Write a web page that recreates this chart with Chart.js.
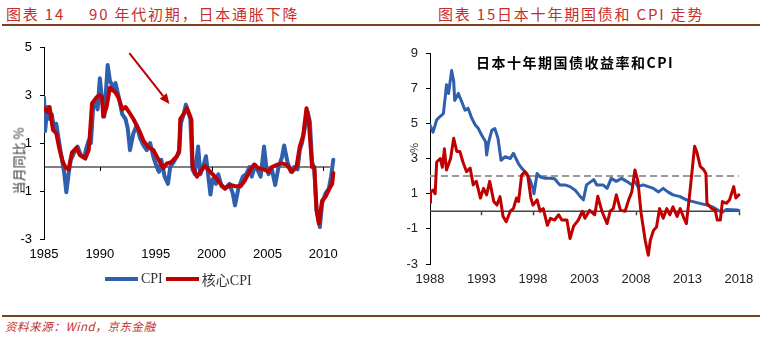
<!DOCTYPE html>
<html>
<head>
<meta charset="utf-8">
<script src="https://cdn.jsdelivr.net/npm/chart.js@4.4.1/dist/chart.umd.min.js"></script>
<style>
  body { margin: 0; width: 762px; height: 337px; position: relative; background: #fff; overflow: hidden;
         font-family: 'Noto Sans CJK SC', 'Liberation Sans', sans-serif; }
  .ttl { position: absolute; top: 3px; color: #C62D2D; font-size: 15px; letter-spacing: 1.8px; white-space: nowrap; }
  .rule { position: absolute; left: 2px; right: 2px; height: 2px; background: #7B3F1F; }
  .box { position: absolute; }
  .vt { position: absolute; transform: translate(-50%, -50%) rotate(-90deg); white-space: nowrap; color: #333; }
  .leg { position: absolute; top: 269px; left: 105px; display: flex; align-items: center; font-family: 'Liberation Serif', 'Noto Sans CJK SC', serif; font-size: 14px; color: #333; }
  .leg i { display: inline-block; width: 33px; height: 4px; margin-right: 3px; }
  .leg span { margin-right: 3px; }
  .inner { position: absolute; top: 52px; left: 476px; font-weight: bold; font-size: 14px; letter-spacing: 1.5px; color: #000; white-space: nowrap; }
  .src { position: absolute; left: 5px; top: 318px; font-size: 11.5px; font-style: italic; color: #C62D2D; letter-spacing: 0.6px; }
</style>
</head>
<body>
<div class="ttl" style="left:6px">图表 14<span style="margin-left:24px">90 年代初期，日本通胀下降</span></div>
<div class="ttl" style="left:438px">图表 15日本十年期国债和 CPI 走势</div>
<div class="rule" style="top:24px"></div>

<div class="box" style="left:0;top:30px;width:381px;height:240px"><canvas id="left"></canvas></div>
<div class="box" style="left:381px;top:30px;width:381px;height:270px"><canvas id="right"></canvas></div>

<div class="vt" style="left:18px;top:161px;font-size:13px">当月同比 %</div>
<div class="vt" style="left:413px;top:148px;font-size:11px">%</div>
<div class="inner">日本十年期国债收益率和CPI</div>

<div class="leg"><i style="background:#2F5FAD"></i><span>CPI</span><i style="background:#C00000"></i><span>核心CPI</span></div>

<div class="rule" style="top:315px"></div>
<div class="src">资料来源：Wind，京东金融</div>

<script>
// 图表14：日本CPI与核心CPI（当月同比 %）
const leftXTicks = [1985, 1990, 1995, 2000, 2005, 2010];
const leftYTicks = [-3, -1, 1, 3, 5];

const cpiT = [1985.0, 1985.1, 1985.3, 1985.5, 1985.7, 1985.9, 1986.1, 1986.3, 1986.5, 1986.8,
  1987.0, 1987.2, 1987.4, 1987.7, 1988.0, 1988.3, 1988.6, 1988.8, 1989.0, 1989.2,
  1989.4, 1989.6, 1989.8, 1990.0, 1990.2, 1990.4, 1990.7, 1990.9, 1991.2, 1991.4,
  1991.7, 1992.0, 1992.3, 1992.5, 1992.7, 1993.0, 1993.3, 1993.6, 1993.9, 1994.2,
  1994.5, 1994.8, 1995.1, 1995.3, 1995.5, 1995.8, 1996.1, 1996.3, 1996.6, 1996.9,
  1997.1, 1997.25, 1997.5, 1997.7, 1997.9, 1998.1, 1998.3, 1998.5, 1998.8, 1999.0,
  1999.3, 1999.5, 1999.9, 2000.1, 2000.4, 2000.6, 2000.9, 2001.2, 2001.6, 2001.9,
  2002.1, 2002.4, 2002.8, 2003.1, 2003.4, 2003.6, 2003.9, 2004.2, 2004.4, 2004.7,
  2004.9, 2005.1, 2005.4, 2005.7, 2006.0, 2006.3, 2006.5, 2006.8, 2007.1, 2007.4,
  2007.7, 2007.9, 2008.1, 2008.3, 2008.6, 2008.8, 2009.0, 2009.2, 2009.4, 2009.7,
  2009.9, 2010.2, 2010.5, 2010.7, 2010.9];
const cpiV = [2.9, 1.5, 2.5, 2.0, 2.2, 1.6, 1.8, 1.2, 0.6, -0.2,
  -1.05, -0.3, 0.3, 0.6, 0.85, 0.5, 0.4, 0.8, 1.1, 1.0,
  2.5, 2.7, 2.4, 3.7, 2.8, 2.1, 4.25, 3.6, 3.3, 3.5,
  2.9, 2.2, 2.0, 1.6, 0.7, 1.4, 1.75, 1.2, 0.9, 0.7,
  1.0, 0.4, 0.0, -0.2, 0.3, -0.4, -0.7, 0.0, 0.2, 0.45,
  0.6, 1.8, 2.2, 2.6, 2.3, 2.0, -0.1, -0.3, 0.85, -0.3,
  0.1, 0.45, -1.15, -0.5, -0.7, -0.3, -0.8, -0.9, -0.7, -1.1,
  -1.6, -0.9, -0.4, -0.3, 0.0, -0.4, 0.1, -0.2, -0.4, 0.85,
  0.0, -0.3, -0.1, -0.75, 0.0, 0.4, 0.9, 0.2, -0.2, 0.0,
  -0.1, 0.7, 1.0, 1.5, 2.3, 1.9, 0.2, -0.1, -1.8, -2.5,
  -1.5, -1.1, -0.9, -0.4, 0.3];

const coreT = [1985.0, 1985.3, 1985.5, 1985.8, 1986.1, 1986.4, 1986.7, 1986.9, 1987.2, 1987.5,
  1987.9, 1988.2, 1988.7, 1989.0, 1989.1, 1989.3, 1989.7, 1990.0, 1990.2, 1990.3,
  1990.6, 1990.9, 1991.4, 1991.7, 1992.0, 1992.3, 1992.6, 1993.0, 1993.5, 1993.9,
  1994.3, 1994.8, 1995.2, 1995.7, 1996.0, 1996.4, 1996.9, 1997.1, 1997.2, 1997.5,
  1997.8, 1998.1, 1998.2, 1998.3, 1998.7, 1999.0, 1999.4, 1999.9, 2000.3, 2000.8,
  2001.2, 2001.7, 2002.1, 2002.6, 2003.0, 2003.5, 2003.8, 2004.2, 2004.7, 2005.1,
  2005.4, 2005.9, 2006.3, 2006.7, 2007.2, 2007.6, 2007.9, 2008.2, 2008.5, 2008.7,
  2009.0, 2009.2, 2009.4, 2009.6, 2009.9, 2010.2, 2010.5, 2010.8, 2010.9];
const coreV = [2.45, 2.3, 2.5, 1.55, 1.4, 0.7, 0.2, 0.0, -0.1, 0.6,
  0.8, 0.5, 0.35, 0.7, 1.3, 2.65, 2.9, 3.0, 2.9, 2.1,
  2.5, 3.3, 3.1, 2.85, 2.4, 2.5, 2.3, 2.0, 1.55, 1.1,
  0.85, 0.7, 0.35, -0.05, 0.15, 0.2, 0.45, 0.7, 2.0, 2.2,
  2.45, 2.1, 1.95, 0.0, -0.4, -0.2, 0.05, -0.2, -0.4, -0.7,
  -0.9, -0.75, -0.8, -0.8, -0.55, -0.1, 0.1, -0.05, -0.1, -0.2,
  0.0, 0.1, 0.15, 0.1, -0.2, 0.0, 0.85, 1.3, 2.45, 1.95,
  0.0, 0.0, -1.8, -2.35, -1.4, -1.25, -0.95, -0.7, -0.25];

// 箭头注释（数据坐标）
const arrowFrom = [1992.64, 4.74];
const arrowTo = [1996.23, 2.63];

// 图表15：日本十年期国债收益率与CPI（%）
const rightXTicks = [1988, 1993, 1998, 2003, 2008, 2013, 2018];
const rightYTicks = [-3, -1, 1, 3, 5, 7, 9];
const refLevel = 2;

const jgbT = [1988.0, 1988.3, 1988.65, 1989.0, 1989.3, 1989.5, 1989.6, 1989.8, 1990.1, 1990.3,
  1990.4, 1990.75, 1991.1, 1991.4, 1991.7, 1992.05, 1992.4, 1992.7, 1993.0, 1993.4,
  1993.5, 1993.7, 1994.0, 1994.3, 1994.6, 1994.9, 1995.3, 1995.8, 1996.1, 1996.6,
  1996.9, 1997.4, 1997.7, 1998.0, 1998.1, 1998.4, 1998.7, 1999.2, 1999.65, 2000.1,
  2000.6, 2001.1, 2001.6, 2002.1, 2002.6, 2002.9, 2003.2, 2003.9, 2004.2, 2004.8,
  2005.2, 2005.6, 2006.1, 2006.6, 2007.1, 2007.6, 2007.9, 2008.2, 2008.7, 2009.2,
  2009.7, 2010.2, 2010.65, 2011.1, 2011.6, 2012.3, 2012.9, 2013.55, 2014.2, 2014.9,
  2015.5, 2016.0, 2016.4, 2016.8, 2017.8, 2018.0];
const jgbV = [4.9, 4.5, 5.2, 5.4, 5.55, 6.6, 7.2, 6.7, 8.0, 7.4,
  6.3, 6.7, 6.2, 5.75, 5.85, 5.3, 4.9, 4.7, 4.35, 3.95,
  3.2, 3.95, 4.6, 4.7, 4.15, 2.9, 3.1, 3.0, 3.3, 2.7,
  2.45, 2.15, 1.8, 1.3, 1.0, 2.15, 1.95, 1.87, 1.87, 1.85,
  1.5, 1.5, 1.4, 1.2, 0.83, 0.65, 1.5, 1.8, 1.5, 1.5,
  1.3, 1.87, 1.7, 1.87, 1.7, 1.5, 1.7, 1.4, 1.5, 1.4,
  1.3, 1.1, 1.3, 1.1, 0.93, 0.83, 0.65, 0.55, 0.45, 0.35,
  0.23, 0.05, -0.05, 0.1, 0.07, 0.05];

const jpCpiT = [1988.0, 1988.05, 1988.3, 1988.5, 1988.65, 1989.0, 1989.2, 1989.4, 1989.6, 1990.0,
  1990.3, 1990.6, 1990.9, 1991.2, 1991.55, 1991.9, 1992.2, 1992.5, 1992.9, 1993.2,
  1993.5, 1993.8, 1994.2, 1994.5, 1994.8, 1995.1, 1995.4, 1995.8, 1996.1, 1996.4,
  1996.6, 1996.9, 1997.2, 1997.5, 1997.8, 1998.0, 1998.4, 1998.7, 1999.0, 1999.4,
  1999.7, 2000.1, 2000.5, 2000.8, 2001.3, 2001.6, 2001.95, 2002.4, 2002.8, 2003.05,
  2003.5, 2004.0, 2004.3, 2004.7, 2005.2, 2005.5, 2005.8, 2006.1, 2006.5, 2006.95,
  2007.3, 2007.6, 2007.9, 2008.2, 2008.5, 2008.9, 2009.2, 2009.4, 2009.7, 2010.0,
  2010.3, 2010.65, 2011.0, 2011.3, 2011.6, 2012.0, 2012.3, 2012.6, 2012.9, 2013.2,
  2013.5, 2013.7, 2013.9, 2014.25, 2014.6, 2014.8, 2014.9, 2015.35, 2015.7, 2015.9,
  2016.2, 2016.4, 2016.8, 2017.1, 2017.5, 2017.7, 2018.0];
const jpCpiV = [0.5, 1.1, 1.2, 1.0, 2.8, 3.0, 2.5, 3.55, 2.35, 3.0,
  4.15, 3.4, 3.4, 2.8, 2.25, 2.45, 1.5, 1.7, 0.75, 1.3,
  0.93, 1.7, 0.55, 0.35, 0.83, -0.3, -0.6, 0.0, 0.15, 0.75,
  0.55, 2.05, 2.25, 2.0, 0.75, 0.35, 0.65, 0.0, 0.15, -0.8,
  -0.4, -0.5, -0.2, -0.5, -0.5, -1.55, -0.85, -0.5, 0.0, -0.4,
  0.05, -0.2, 0.85, 0.0, -0.7, 0.0, 0.15, 0.93, 0.05, 0.0,
  0.65, 1.1, 2.35, 1.7, -0.1, -1.65, -2.5, -1.65, -1.1, -0.9,
  0.15, -0.4, 0.15, -0.2, 0.25, -0.3, 0.15, -0.3, -0.7, 0.85,
  2.55, 3.7, 3.4, 2.55, 2.35, 2.15, 0.45, 0.15, 0.07, -0.5,
  -0.5, 0.55, 0.45, 0.65, 1.4, 0.75, 0.93];

const BLUE = '#2F5FAD';
const RED = '#C00000';
const pts = (t, v) => t.map((x, i) => ({ x, y: v[i] }));

// 零轴 + 刻度（向下）+ 参考虚线 + 箭头
const zeroAxis = {
  id: 'zeroAxis',
  beforeDatasetsDraw(chart, args, o) {
    const { ctx, chartArea: a, scales: { x, y } } = chart;
    const y0 = y.getPixelForValue(0);
    const xe = x.getPixelForValue(o.end);
    ctx.save();
    if (o.ref != null) {
      const yr = y.getPixelForValue(o.ref);
      ctx.strokeStyle = '#9a9a9a'; ctx.lineWidth = 2; ctx.setLineDash([7, 4]);
      ctx.beginPath(); ctx.moveTo(a.left, yr); ctx.lineTo(xe, yr); ctx.stroke();
      ctx.setLineDash([]);
    }
    ctx.strokeStyle = o.color; ctx.lineWidth = o.width;
    ctx.beginPath();
    ctx.moveTo(a.left, y0); ctx.lineTo(xe, y0);
    x.ticks.forEach(t => {
      const px = Math.round(x.getPixelForValue(t.value)) + 0.5;
      if (px > a.left + 2) { ctx.moveTo(px, y0); ctx.lineTo(px, y0 + 4); }
    });
    ctx.stroke();
    ctx.restore();
  },
  afterDatasetsDraw(chart, args, o) {
    if (!o.arrow) return;
    const { ctx, scales: { x, y } } = chart;
    const x1 = x.getPixelForValue(o.arrow[0][0]), y1 = y.getPixelForValue(o.arrow[0][1]);
    const x2 = x.getPixelForValue(o.arrow[1][0]), y2 = y.getPixelForValue(o.arrow[1][1]);
    const ang = Math.atan2(y2 - y1, x2 - x1), hl = 10, hw = 4.5;
    ctx.save();
    ctx.strokeStyle = RED; ctx.fillStyle = RED; ctx.lineWidth = 2;
    ctx.beginPath(); ctx.moveTo(x1, y1);
    ctx.lineTo(x2 - hl * Math.cos(ang), y2 - hl * Math.sin(ang)); ctx.stroke();
    ctx.beginPath(); ctx.moveTo(x2, y2);
    ctx.lineTo(x2 - hl * Math.cos(ang) + hw * Math.sin(ang), y2 - hl * Math.sin(ang) - hw * Math.cos(ang));
    ctx.lineTo(x2 - hl * Math.cos(ang) - hw * Math.sin(ang), y2 - hl * Math.sin(ang) + hw * Math.cos(ang));
    ctx.closePath(); ctx.fill();
    ctx.restore();
  }
};

function lineSet(data, color, w) {
  return { data, borderColor: color, borderWidth: w, pointRadius: 0, tension: 0, borderJoinStyle: 'round', borderCapStyle: 'round' };
}

function makeChart(id, cfg) {
  return new Chart(document.getElementById(id), {
    type: 'line',
    data: { datasets: cfg.sets },
    plugins: [zeroAxis],
    options: {
      responsive: true, maintainAspectRatio: false, animation: false,
      events: [],
      layout: { padding: cfg.pad },
      plugins: { legend: { display: false }, tooltip: { enabled: false }, zeroAxis: cfg.zero },
      scales: {
        x: {
          type: 'linear', min: cfg.xMin, max: cfg.xMax,
          afterBuildTicks: s => { s.ticks = cfg.xTicks.map(v => ({ value: v })); },
          afterFit: s => { s.height = cfg.xH; },
          grid: { display: false, drawTicks: false }, border: { display: false },
          ticks: { padding: cfg.xPad, maxRotation: 0, autoSkip: false, color: cfg.tickColor,
                   callback: v => String(v),
                   font: { family: "'Liberation Sans', Arial, sans-serif", size: 13 } }
        },
        y: {
          min: cfg.yMin, max: cfg.yMax,
          afterBuildTicks: s => { s.ticks = cfg.yTicks.map(v => ({ value: v })); },
          afterFit: s => { s.width = cfg.yW; },
          grid: { drawOnChartArea: false, drawTicks: true, tickLength: 4, color: '#000' },
          border: { display: true, color: '#000', width: 1 },
          ticks: { padding: 8, color: cfg.tickColor, callback: v => String(v),
                   font: { family: "'Liberation Sans', Arial, sans-serif", size: 13 } }
        }
      }
    }
  });
}

// 红线在上：数据集 0 最后绘制
makeChart('left', {
  sets: [lineSet(pts(coreT, coreV), RED, 4), lineSet(pts(cpiT, cpiV), BLUE, 4)],
  pad: { left: 0, top: 17, right: 41, bottom: 0 },
  xMin: 1985, xMax: 2011.5, xTicks: leftXTicks, xH: 31, xPad: 8,
  yMin: -3, yMax: 5, yTicks: leftYTicks, yW: 44, tickColor: '#000',
  zero: { color: '#000', width: 1, end: 2010.6, arrow: [arrowFrom, arrowTo] }
});

makeChart('right', {
  sets: [lineSet(pts(jpCpiT, jpCpiV), RED, 3), lineSet(pts(jgbT, jgbV), BLUE, 3)],
  pad: { left: 0, top: 23, right: 19, bottom: 0 },
  xMin: 1988, xMax: 2018.4, xTicks: rightXTicks, xH: 36, xPad: 8,
  yMin: -3, yMax: 9, yTicks: rightYTicks, yW: 49, tickColor: '#222',
  zero: { color: '#444', width: 1.5, end: 2018, ref: refLevel }
});
</script>
</body>
</html>
